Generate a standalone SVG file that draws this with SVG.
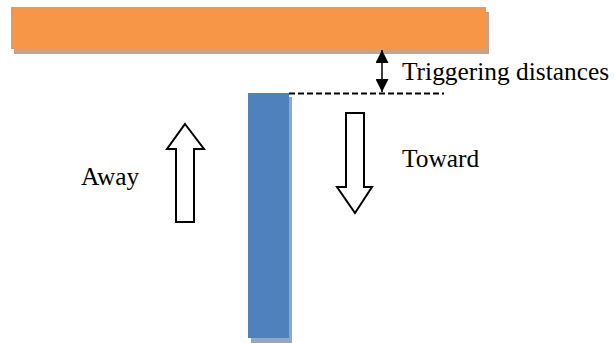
<svg xmlns="http://www.w3.org/2000/svg" width="615" height="343" viewBox="0 0 615 343">
<style>
.lbl{font-family:"Liberation Serif","Times New Roman",serif;font-size:25.4px;fill:#000}
.blk{fill:#fff;stroke:#000;stroke-width:2;stroke-linejoin:miter}
.conn{stroke:#000;stroke-width:1.5;fill:none}
</style>
<defs>
<marker id="ah" viewBox="0 0 10 10" refX="10" refY="5" markerWidth="13" markerHeight="13" markerUnits="userSpaceOnUse" orient="auto-start-reverse">
<path d="M0,0 L10,5 L0,10 Z" fill="#000"/>
</marker>
</defs>
<rect width="615" height="343" fill="#fff"/>
<g id="plate">
<rect x="14" y="12" width="475" height="42" fill="#c4a489"/>
<rect x="11" y="7" width="475" height="42" fill="#f79646"/>
</g>
<g id="probe">
<rect x="251" y="97" width="41" height="246" fill="#97a6bf"/>
<rect x="248" y="93" width="41" height="245" fill="#4f81bd"/>
</g>
<g id="connectors">
<line class="conn" x1="289" y1="93.5" x2="444" y2="93.5" stroke-dasharray="6,3" style="stroke-width:1.8"/>
<line class="conn" x1="382" y1="50" x2="382" y2="92" marker-start="url(#ah)" marker-end="url(#ah)"/>
</g>
<g id="away-arrow">
<polygon class="blk" points="185,124 204,149 194,149 194,222 176,222 176,149 167,149"/>
</g>
<g id="toward-arrow">
<polygon class="blk" points="346,113 364,113 364,187 372,187 355,213 337,187 346,187"/>
</g>
<g id="labels">
<text class="lbl" x="402" y="80">Triggering distances</text>
<text class="lbl" x="402" y="167">Toward</text>
<text class="lbl" x="81" y="185">Away</text>
</g>
</svg>
